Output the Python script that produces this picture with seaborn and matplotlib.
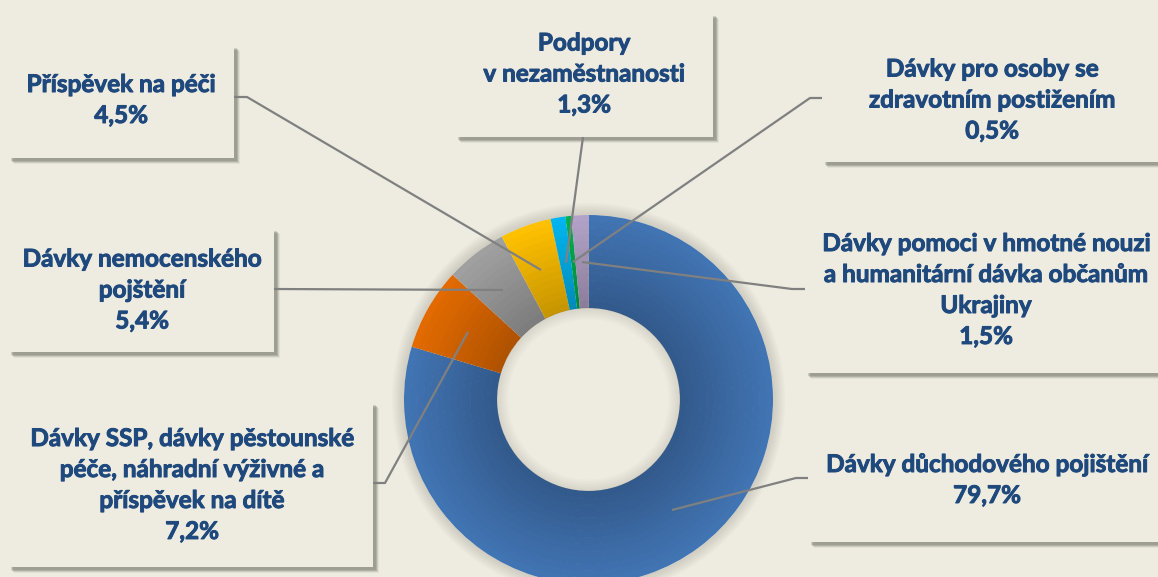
import matplotlib
matplotlib.use('Agg')
import matplotlib.pyplot as plt
import matplotlib.colors as mcolors
import matplotlib.patheffects as pe
from matplotlib.patches import Rectangle, Wedge
import seaborn as sns
import numpy as np

# data
labels = [
    "Dávky důchodového pojištění",
    "Dávky SSP, dávky pěstounské\npéče, náhradní výživné a\npříspěvek na dítě",
    "Dávky nemocenského\npojštění",
    "Příspěvek na péči",
    "Podpory\nv nezaměstnanosti",
    "Dávky pro osoby se\nzdravotním postižením",
    "Dávky pomoci v hmotné nouzi\na humanitární dávka občanům\nUkrajiny",
]
shares = [79.7, 7.2, 5.4, 4.5, 1.3, 0.5, 1.5]
slice_colors = ["#4174B3", "#E26A00", "#A0A0A0", "#FFC000", "#00B4F0", "#00B050", "#B3A2C7"]

BG = "#EEECE1"
TXT = "#1F497D"
LINE = "#808080"
W, H = 1158, 577

# layout in pixel coords (y from top): box (x0, y0, x1, y1), text centre, leader path
boxes = [
    ((808, 415, 1170, 542), (987, 480), [(808, 478), (796, 478), (672, 510)]),
    ((8, 402, 373, 567), (192, 485), [(373, 483), (385, 483), (468, 332)]),
    ((8, 228, 274, 352), (142, 290), [(274, 289), (503, 290)]),
    ((8, 45, 234, 158), (121, 100), [(234, 97), (247, 97), (541, 270)]),
    ((455, 13, 713, 137), (584, 74), [(583, 137), (566, 263)]),
    ((822, 33, 1170, 162), (992, 100), [(822, 98), (810, 98), (573, 262)]),
    ((805, 218, 1170, 373), (986, 290), [(805, 289), (792, 289), (582, 262)]),
]


def py(y):
    return H - y


sns.set_style("white", {"axes.facecolor": BG, "figure.facecolor": BG})
plt.rcParams['font.family'] = ['Lato', 'DejaVu Sans']

fig = plt.figure(figsize=(W / 100, H / 100), dpi=100)
ax = fig.add_axes([0, 0, 1, 1])
ax.set_facecolor(BG)

cx, cy, R = 588.5, py(399.5), 184.5
ring = 92.5
hole = R - ring

# soft halo round the donut
for k in range(8):
    ax.add_patch(Wedge((cx, cy), R + 1.5 * (k + 1), 0, 360, width=1.5 * (k + 1),
                       color="#7a786a", alpha=0.03, lw=0, zorder=1))

# ring drawn in bands to get the darker shading towards the hole
nb = 14
for i in range(nb):
    t = i / (nb - 1)
    f = 1.0 - 0.22 * t
    cols = [tuple(np.clip(np.array(mcolors.to_rgb(c)) * f, 0, 1)) for c in slice_colors]
    ax.pie(shares, colors=cols, startangle=90, counterclock=False,
           radius=R - i * ring / nb, center=(cx, cy), frame=True,
           wedgeprops=dict(width=ring / nb + 0.6, linewidth=0, zorder=2))

# soft shadow inside the hole
for k in range(8):
    ax.add_patch(Wedge((cx, cy), hole, 0, 360, width=1.5 * (k + 1),
                       color="#7a786a", alpha=0.025, lw=0, zorder=3))

for (x0, y0, x1, y1), (tx, ty), path in boxes:
    bw, bh = x1 - x0, y1 - y0
    for off, a in [(6, 0.08), (5, 0.15), (4, 0.25), (3, 0.2)]:
        ax.add_patch(Rectangle((x0 + off, py(y1) - off), bw, bh, color="#5a5a50",
                               alpha=a, lw=0, zorder=4))
    ax.add_patch(Rectangle((x0, py(y1)), bw, bh, facecolor=BG, lw=0, zorder=5))
    xs = [p[0] for p in path]
    ys = [py(p[1]) for p in path]
    ax.plot(xs, ys, color=LINE, lw=1.6, zorder=6, solid_capstyle='butt')

for lab, val, (_, (tx, ty), _) in zip(labels, shares, boxes):
    txt = lab + "\n" + f"{val:.1f}".replace(".", ",") + "%"
    ax.text(tx, py(ty), txt, ha='center', va='center', fontsize=17.5,
            fontweight='bold', color=TXT, linespacing=1.42, zorder=7,
            path_effects=[pe.withStroke(linewidth=0.7, foreground=TXT)])

ax.set_xlim(0, W)
ax.set_ylim(0, H)
ax.set_aspect('auto')
ax.axis('off')

fig.savefig("out.png", dpi=100, facecolor=BG)
